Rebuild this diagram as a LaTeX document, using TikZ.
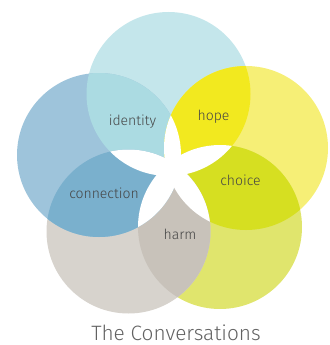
\documentclass[tikz,border=0pt]{standalone}
\usepackage{fontspec}
\setmainfont{Fira Sans}[UprightFont=* Light]
\definecolor{ctop}{HTML}{C4E6EB}
\definecolor{cleft}{HTML}{9EC4DB}
\definecolor{cbl}{HTML}{D7D3CD}
\definecolor{cbr}{HTML}{E0E56D}
\definecolor{cright}{HTML}{F6EF76}
\definecolor{cident}{HTML}{ABDBE2}
\definecolor{cconn}{HTML}{7AB0CD}
\definecolor{charm}{HTML}{C8C2BA}
\definecolor{cchoice}{HTML}{D6DF21}
\definecolor{chope}{HTML}{F2E91F}
\definecolor{ctext}{HTML}{454545}
\definecolor{ctitle}{HTML}{626262}
\tikzset{
  lbl/.style={anchor=base, text=ctext, font=\fontsize{14}{16}\selectfont, inner sep=0pt},
  ttl/.style={anchor=base, text=ctitle, font=\fontsize{20.8}{24}\selectfont, inner sep=0pt},
}
\newcommand{\rr}{82pt}
\begin{document}
\begin{tikzpicture}[x=1pt,y=-1pt]
\useasboundingbox (0,0) rectangle (329,345);
\coordinate (T) at (168.5,94);
\coordinate (R) at (246,148);
\coordinate (L) at (99,155);
\coordinate (BL) at (128.5,231.5);
\coordinate (BR) at (220,227);
% single circles
\fill[ctop] (T) circle[radius=\rr];
\fill[cright] (R) circle[radius=\rr];
\fill[cbr] (BR) circle[radius=\rr];
\fill[cbl] (BL) circle[radius=\rr];
\fill[cleft] (L) circle[radius=\rr];
% adjacent overlaps
\begin{scope}\clip (T) circle[radius=\rr]; \fill[cident] (L) circle[radius=\rr];\end{scope}
\begin{scope}\clip (T) circle[radius=\rr]; \fill[chope] (R) circle[radius=\rr];\end{scope}
\begin{scope}\clip (R) circle[radius=\rr]; \fill[cchoice] (BR) circle[radius=\rr];\end{scope}
\begin{scope}\clip (BR) circle[radius=\rr]; \fill[charm] (BL) circle[radius=\rr];\end{scope}
\begin{scope}\clip (BL) circle[radius=\rr]; \fill[cconn] (L) circle[radius=\rr];\end{scope}
% non-adjacent overlaps: white star
\begin{scope}\clip (T) circle[radius=\rr]; \fill[white] (BR) circle[radius=\rr];\end{scope}
\begin{scope}\clip (T) circle[radius=\rr]; \fill[white] (BL) circle[radius=\rr];\end{scope}
\begin{scope}\clip (R) circle[radius=\rr]; \fill[white] (BL) circle[radius=\rr];\end{scope}
\begin{scope}\clip (R) circle[radius=\rr]; \fill[white] (L) circle[radius=\rr];\end{scope}
\begin{scope}\clip (L) circle[radius=\rr]; \fill[white] (BR) circle[radius=\rr];\end{scope}
% labels
\node[lbl] (identity) at (132.5,125.5) {identity};
\node[lbl] (hope) at (213.5,120) {hope};
\node[lbl] (choice) at (240.5,185.5) {choice};
\node[lbl] (connection) at (104,198.5) {connection};
\node[lbl] (harm) at (180,239) {harm};
\node[ttl] (title) at (176,340.5) {The Conversations};
\end{tikzpicture}
\end{document}
